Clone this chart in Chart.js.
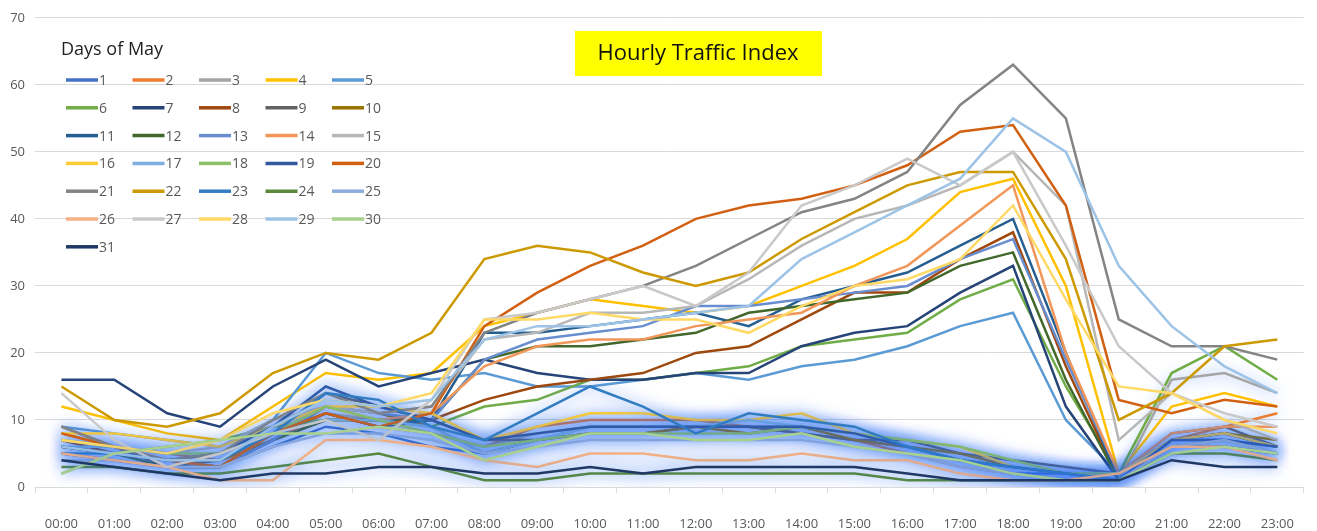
<!DOCTYPE html>
<html>
<head>
<meta charset="utf-8">
<script src="https://cdn.jsdelivr.net/npm/chart.js@4.4.1/dist/chart.umd.min.js"></script>
<style>
  html, body { margin: 0; padding: 0; background: #fff; }
  #wrap { width: 1317px; height: 531px; }
</style>
</head>
<body>
<div id="wrap"><canvas id="trafficChart"></canvas></div>
<script>
// hours of the day
const hours = ['00:00', '01:00', '02:00', '03:00', '04:00', '05:00', '06:00', '07:00',
  '08:00', '09:00', '10:00', '11:00', '12:00', '13:00', '14:00', '15:00',
  '16:00', '17:00', '18:00', '19:00', '20:00', '21:00', '22:00', '23:00'];

const chartTitle = 'Hourly Traffic Index';
const legendTitle = 'Days of May';
const yTicks = [0, 10, 20, 30, 40, 50, 60, 70];

// hourly index per day
const d1 = [5, 4, 3, 3, 6, 9, 8, 6, 5, 7, 9, 9, 9, 9, 8, 7, 6, 4, 2, 2, 1, 7, 7, 6];
const d2 = [8, 6, 5, 4, 7, 11, 9, 8, 6, 9, 10, 10, 10, 9, 8, 7, 5, 3, 2, 1, 2, 7, 9, 11];
const d3 = [7, 6, 4, 3, 8, 11, 10, 8, 6, 8, 9, 9, 9, 9, 9, 8, 6, 4, 3, 2, 1, 16, 17, 14];
const d4 = [12, 10, 8, 7, 12, 17, 16, 17, 24, 26, 28, 27, 26, 27, 30, 33, 37, 44, 46, 30, 2, 12, 14, 12];
const d5 = [9, 8, 7, 6, 10, 20, 17, 16, 17, 15, 15, 16, 17, 16, 18, 19, 21, 24, 26, 10, 2, 7, 8, 6];
const d6 = [2, 5, 6, 7, 9, 10, 10, 9, 12, 13, 16, 16, 17, 18, 21, 22, 23, 28, 31, 15, 2, 17, 21, 16];
const d7 = [16, 16, 11, 9, 15, 19, 15, 17, 19, 17, 16, 16, 17, 17, 21, 23, 24, 29, 33, 12, 1, 6, 6, 5];
const d8 = [7, 5, 4, 3, 7, 10, 10, 10, 13, 15, 16, 17, 20, 21, 25, 29, 29, 34, 38, 18, 1, 7, 8, 6];
const d9 = [9, 6, 3, 4, 8, 14, 12, 10, 7, 7, 8, 8, 9, 9, 8, 7, 7, 5, 4, 3, 2, 8, 9, 6];
const d10 = [6, 5, 4, 4, 7, 12, 11, 9, 5, 7, 8, 8, 9, 8, 9, 7, 6, 5, 3, 2, 2, 7, 8, 7];
const d11 = [6, 5, 4, 3, 8, 11, 9, 10, 23, 23, 24, 25, 26, 24, 28, 30, 32, 36, 40, 20, 1, 7, 8, 6];
const d12 = [6, 5, 3, 3, 7, 10, 10, 10, 19, 21, 21, 22, 23, 26, 27, 28, 29, 33, 35, 16, 1, 6, 7, 5];
const d13 = [5, 4, 3, 3, 7, 12, 11, 10, 19, 22, 23, 24, 27, 27, 28, 29, 30, 34, 37, 19, 2, 7, 7, 5];
const d14 = [8, 6, 4, 3, 8, 12, 10, 11, 18, 21, 22, 22, 24, 25, 26, 30, 33, 39, 45, 20, 2, 8, 9, 9];
const d15 = [7, 6, 5, 6, 10, 12, 11, 12, 22, 23, 26, 26, 27, 31, 36, 40, 42, 45, 50, 42, 7, 14, 10, 7];
const d16 = [8, 8, 7, 6, 9, 12, 12, 11, 7, 9, 11, 11, 10, 10, 11, 8, 7, 6, 3, 2, 2, 7, 8, 6];
const d17 = [6, 6, 5, 5, 8, 10, 10, 9, 5, 7, 9, 9, 9, 10, 9, 8, 6, 4, 3, 2, 2, 6, 7, 5];
const d18 = [7, 6, 5, 5, 8, 12, 10, 8, 6, 7, 8, 8, 8, 8, 9, 8, 7, 6, 4, 2, 2, 6, 7, 5];
const d19 = [6, 5, 4, 5, 9, 15, 12, 10, 7, 8, 9, 9, 9, 9, 9, 8, 6, 4, 3, 2, 1, 7, 7, 6];
const d20 = [8, 6, 4, 3, 8, 11, 9, 11, 24, 29, 33, 36, 40, 42, 43, 45, 48, 53, 54, 42, 13, 11, 13, 12];
const d21 = [9, 6, 4, 5, 10, 14, 11, 12, 23, 26, 28, 30, 33, 37, 41, 43, 47, 57, 63, 55, 25, 21, 21, 19];
const d22 = [15, 10, 9, 11, 17, 20, 19, 23, 34, 36, 35, 32, 30, 32, 37, 41, 45, 47, 47, 34, 10, 14, 21, 22];
const d23 = [5, 5, 4, 4, 8, 14, 13, 9, 7, 11, 15, 12, 8, 11, 10, 9, 6, 4, 3, 2, 1, 6, 6, 5];
const d24 = [3, 3, 2, 2, 3, 4, 5, 3, 1, 1, 2, 2, 2, 2, 2, 2, 1, 1, 1, 1, 1, 5, 5, 4];
const d25 = [4, 4, 3, 3, 6, 8, 8, 7, 5, 6, 7, 7, 7, 7, 7, 6, 5, 3, 2, 1, 1, 6, 7, 5];
const d26 = [5, 4, 3, 1, 1, 7, 7, 6, 4, 3, 5, 5, 4, 4, 5, 4, 4, 2, 1, 1, 2, 6, 6, 4];
const d27 = [14, 7, 3, 5, 8, 10, 7, 13, 25, 26, 28, 30, 27, 32, 42, 45, 49, 45, 50, 36, 21, 14, 11, 9];
const d28 = [7, 6, 5, 7, 11, 13, 12, 14, 25, 25, 26, 25, 25, 23, 27, 30, 31, 34, 42, 28, 15, 14, 10, 8];
const d29 = [6, 5, 4, 4, 9, 13, 12, 13, 22, 24, 24, 25, 26, 27, 34, 38, 42, 46, 55, 50, 33, 24, 18, 14];
const d30 = [2, 5, 6, 7, 8, 8, 9, 8, 4, 6, 8, 8, 7, 7, 8, 6, 5, 4, 2, 1, 1, 5, 6, 5];
const d31 = [4, 3, 2, 1, 2, 2, 3, 3, 2, 2, 3, 2, 3, 3, 3, 3, 2, 1, 1, 1, 1, 4, 3, 3];

const dayValues = [d1, d2, d3, d4, d5, d6, d7, d8, d9, d10, d11, d12, d13, d14, d15, d16,
  d17, d18, d19, d20, d21, d22, d23, d24, d25, d26, d27, d28, d29, d30, d31];

// days drawn with the blue glow
const glowDays = [1, 2, 3, 9, 10, 16, 17, 18, 19, 23, 24, 25, 26, 30, 31];

// office style series colours
const dayColors = [
  '#4472C4', '#ED7D31', '#A5A5A5', '#FFC000', '#5B9BD5', '#70AD47',
  '#264478', '#9E480E', '#636363', '#997300', '#255E91', '#43682B',
  '#698ED0', '#F1975A', '#B7B7B7', '#FFCD33', '#7CAFDD', '#8CC168',
  '#335AA1', '#D26012', '#848484', '#CC9A00', '#327DC2', '#5A8A39',
  '#8FAADC', '#F4B183', '#C9C9C9', '#FFD966', '#9DC3E6', '#A9D18E',
  '#203864'
];

const datasets = dayValues.map((vals, i) => ({
  label: String(i + 1),
  data: vals,
  borderColor: dayColors[i],
  backgroundColor: dayColors[i],
  borderWidth: 2.5,
  pointRadius: 0,
  tension: 0,
  fill: false,
  order: 31 - i,
  glow: glowDays.includes(i + 1)
}));

// blue glow round weekend lines
const glowPlugin = {
  id: 'glow',
  beforeDatasetDraw(chart, args) {
    const ds = chart.data.datasets[args.index];
    if (!ds.glow) return;
    const ctx = chart.ctx;
    ctx.save();
    ctx.shadowColor = 'rgba(45, 110, 240, 0.8)';
    ctx.shadowBlur = 15;
  },
  afterDatasetDraw(chart, args) {
    const ds = chart.data.datasets[args.index];
    if (!ds.glow) return;
    chart.ctx.restore();
  }
};

// yellow title box
const titleBox = {
  id: 'titleBox',
  afterDraw(chart) {
    const ctx = chart.ctx;
    ctx.save();
    ctx.fillStyle = '#FFFF00';
    ctx.fillRect(575, 31, 247, 45);
    ctx.fillStyle = '#111';
    ctx.font = '22px "Open Sans"';
    ctx.textAlign = 'center';
    ctx.textBaseline = 'middle';
    ctx.fillText(chartTitle, 698, 54);
    ctx.restore();
  }
};

// legend grid in the top left corner
const dayLegend = {
  id: 'dayLegend',
  afterDraw(chart) {
    const ctx = chart.ctx;
    ctx.save();
    ctx.fillStyle = '#1f1f1f';
    ctx.font = '18px "Open Sans"';
    ctx.textBaseline = 'middle';
    ctx.fillText(legendTitle, 61, 50);
    ctx.font = '14px "Open Sans"';
    chart.data.datasets.forEach((ds, i) => {
      const col = i % 5;
      const row = Math.floor(i / 5);
      const x = 66 + col * 66.5;
      const y = 80 + row * 27.8;
      ctx.strokeStyle = ds.borderColor;
      ctx.lineWidth = 3.5;
      ctx.beginPath();
      ctx.moveTo(x, y);
      ctx.lineTo(x + 32, y);
      ctx.stroke();
      ctx.fillStyle = '#595959';
      ctx.fillText(ds.label, x + 33, y + 1);
    });
    ctx.restore();
  }
};

new Chart(document.getElementById('trafficChart'), {
  type: 'line',
  data: { labels: hours, datasets: datasets },
  plugins: [glowPlugin, titleBox, dayLegend],
  options: {
    responsive: true,
    maintainAspectRatio: false,
    animation: false,
    layout: { padding: { top: 14, right: 4, left: 4, bottom: 0 } },
    plugins: {
      legend: { display: false },
      title: { display: false },
      tooltip: { enabled: false }
    },
    scales: {
      x: {
        offset: true,
        grid: {
          offset: true,
          drawOnChartArea: false,
          tickColor: '#d9d9d9',
          tickLength: 6
        },
        border: { display: false },
        ticks: {
          color: '#595959',
          font: { family: 'Open Sans', size: 13 },
          padding: 23,
          maxRotation: 0,
          autoSkip: false
        },
        afterFit(scale) { scale.height = 44; }
      },
      y: {
        min: 0,
        max: 70,
        afterBuildTicks(scale) { scale.ticks = yTicks.map(v => ({ value: v })); },
        grid: { color: '#d9d9d9', drawTicks: false },
        border: { display: false },
        ticks: {
          color: '#595959',
          font: { family: 'Open Sans', size: 13 },
          padding: 10
        },
        afterFit(scale) { scale.width = 31; }
      }
    }
  }
});
</script>
</body>
</html>
